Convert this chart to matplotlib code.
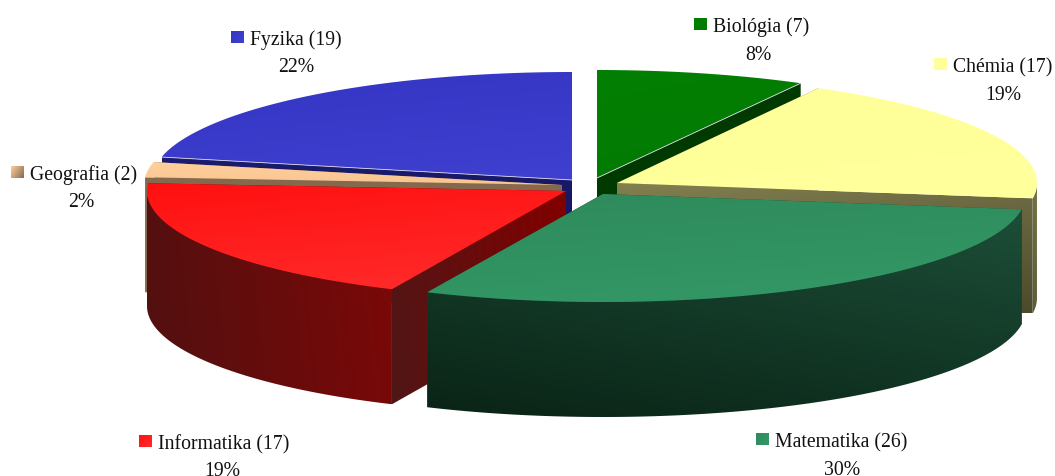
import numpy as np
import matplotlib
matplotlib.use("Agg")
import matplotlib.pyplot as plt
from matplotlib.patches import Polygon
from matplotlib.colors import to_rgb

# Data, clockwise from the top of the pie
categories = ["Biológia", "Chémia", "Matematika", "Informatika", "Geografia", "Fyzika"]
counts = [7, 17, 26, 17, 2, 19]
percent_labels = ["8%", "19%", "30%", "19%", "2%", "22%"]

# Styling
apex_x = [597, 617, 603, 566, 562, 572]
apex_y = [179, 184, 195, 192, 186, 181]
radius_x = [425, 420, 423, 419, 418, 420]
top_col = [("#037f03", "#027a02"), ("#ffff99", "#ffff9c"), ("#2f8a5c", "#339966"),
           ("#ff1010", "#ff2c2c"), ("#ffcf9c", "#f8c490"), ("#3535c4", "#4040d0")]
cut_col = [("#003a00", "#003a00"), ("#827f50", "#4c4a2c"), ("#1a4a34", "#1a4a34"),
           ("#820000", "#501616"), ("#84694e", "#84694e"), ("#1c1c70", "#14145a")]
cut_dir = [(0.45, 0.9), (0.45, 0.9), (0.45, 0.9), (-1, 0.15), (0.45, 0.9), (0.45, 0.9)]
rim_col = [("#003a00", "#003a00"), ("#7a7a4c", "#5a5838"), ("#1c4e38", "#0a2416"),
           ("#7c0808", "#521010"), ("#84694e", "#6e5843"), ("#1c1c70", "#14145a")]
rim_dir = [(-0.45, 0.9), (-0.45, 0.9), (-0.45, 0.9), (-1, 0.1), (-0.45, 0.9), (-0.45, 0.9)]
legend_x = [694, 934, 756, 139, 11, 231]
legend_y = [25, 65, 440, 442, 173, 38]
pct_x = [758, 1003, 842, 222, 81, 296]
pct_base = [60, 100, 475, 476, 207, 72]
RY, DEPTH = 108, 115

fig = plt.figure(figsize=(10.55, 4.77), dpi=100, facecolor="white")
ax = fig.add_axes([0, 0, 1, 1])
ax.set_axis_off()
plt.rcParams["font.family"] = ["Liberation Serif"]


def grad(points, c1, c2, direction=(0.45, 0.9), z=1):
    pts = np.asarray(points)
    x0, y0 = pts.min(axis=0)
    x1, y1 = pts.max(axis=0)
    if x1 - x0 < 1 or y1 - y0 < 1:
        return
    n = 96
    xx, yy = np.meshgrid(np.linspace(0, 1, n), np.linspace(0, 1, n))
    t = xx * direction[0] + yy * direction[1]
    t = (t - t.min()) / (t.max() - t.min())
    a, b = np.array(to_rgb(c1)), np.array(to_rgb(c2))
    img = a[None, None, :] * (1 - t[..., None]) + b[None, None, :] * t[..., None]
    im = ax.imshow(img, extent=(x0, x1, y1, y0), origin="upper", aspect="auto",
                   interpolation="bilinear", zorder=z)
    poly = Polygon(pts, closed=True, transform=ax.transData, fc="none", ec="none")
    ax.add_patch(poly)
    im.set_clip_path(poly)


total = sum(counts)
edges = 360 * np.cumsum([0] + counts) / total
order = [0, 1, 5, 4, 3, 2]  # back to front
z = 1
for i in order:
    cx, cy, rx = apex_x[i], apex_y[i], radius_x[i]
    th = np.radians(np.linspace(edges[i], edges[i + 1], 120))
    ax_pts = np.column_stack([cx + rx * np.sin(th), cy - RY * np.cos(th)])
    apex = np.array([cx, cy])
    # radial cut faces, further back first
    ends = sorted([ax_pts[0], ax_pts[-1]], key=lambda p: p[1])
    for p in ends:
        grad([apex, p, p + [0, DEPTH], apex + [0, DEPTH]], *cut_col[i], direction=cut_dir[i], z=z)
        z += 1
    # outer rim: only the front half of the pie shows it
    lo, hi = max(edges[i], 90), min(edges[i + 1], 270)
    if hi > lo:
        tf = np.radians(np.linspace(lo, hi, 120))
        front = np.column_stack([cx + rx * np.sin(tf), cy - RY * np.cos(tf)])
        grad(np.vstack([front, (front + [0, DEPTH])[::-1]]), *rim_col[i], direction=rim_dir[i], z=z)
        z += 1
    # top surface
    top = np.vstack([apex, ax_pts])
    grad(top, *top_col[i], direction=(0.3, 0.9), z=z)
    z += 1
    if categories[i] in ("Biológia", "Fyzika"):
        edge = ax_pts[-1] if categories[i] == "Biológia" else ax_pts[0]
        ax.plot([cx, edge[0]], [cy, edge[1]], color="#d8d8e8", lw=0.6, zorder=z)
        z += 1

for i, name in enumerate(categories):
    x, y = legend_x[i], legend_y[i]
    grad([(x, y - 6), (x + 13, y - 6), (x + 13, y + 6), (x, y + 6)],
         top_col[i][0], rim_col[i][0] if name == "Geografia" else top_col[i][1],
         direction=(1, 0.6), z=z)
    ax.text(x + 19, y + 7, f"{name} ({counts[i]})", family="Liberation Serif", fontsize=14.2,
            color="#111111", va="baseline", ha="left", zorder=z + 1)
    ax.text(pct_x[i], pct_base[i], percent_labels[i], family="Liberation Serif", fontsize=14.2,
            color="#111111", va="baseline", ha="center", zorder=z + 1)

ax.set_xlim(0, 1055)
ax.set_ylim(477, 0)
fig.savefig("out.png", dpi=100, facecolor="white")
